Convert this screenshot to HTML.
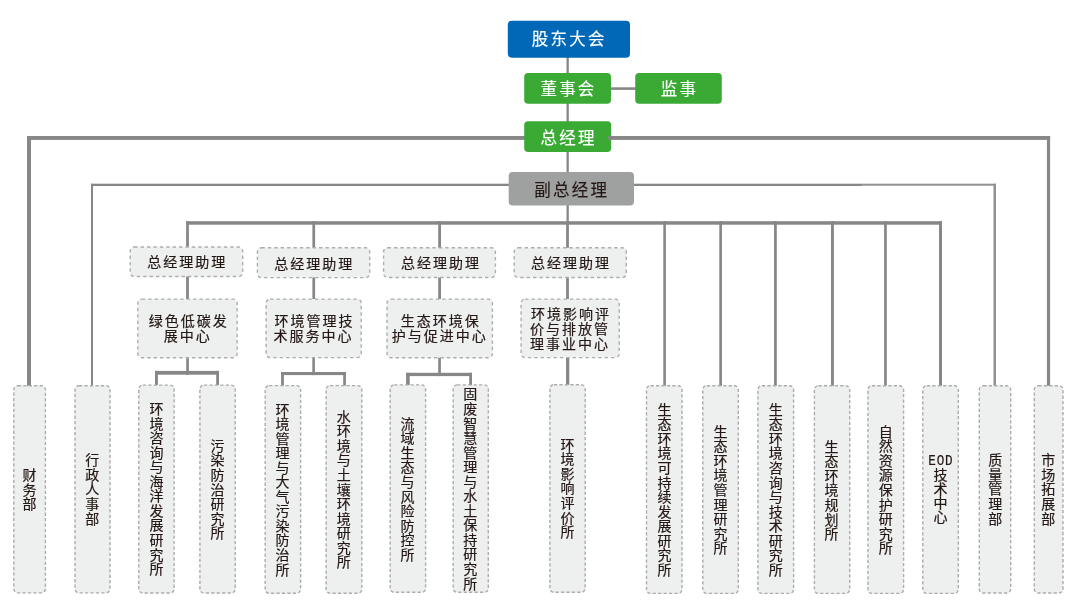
<!DOCTYPE html>
<html lang="zh-CN">
<head>
<meta charset="utf-8">
<title>组织架构</title>
<style>
html,body{margin:0;padding:0;background:#fff;}
body{width:1079px;height:609px;position:relative;overflow:hidden;
 font-family:"Liberation Sans","Noto Sans CJK SC",sans-serif;color:#231815;}
svg{position:absolute;left:0;top:0;}
.ln{fill:#878787;}
.ln2{fill:#919191;}
.blue{fill:#0068b7;}
.green{fill:#3aaa35;}
.gray{fill:#9fa0a0;}
.d{fill:#eeefef;stroke:#acacac;stroke-width:1.4;stroke-dasharray:3.3 2.15;}
.d2{stroke-dasharray:3.4 3.0;stroke:#adadad;}
.b{position:absolute;box-sizing:border-box;will-change:transform;display:flex;align-items:center;justify-content:center;text-align:center;}
.top{color:#fff;font-size:16.5px;letter-spacing:2.2px;text-indent:2.2px;-webkit-text-stroke:0.15px currentColor;}
.dk{color:#231815;}
.h{-webkit-text-stroke:0.2px currentColor;font-size:14px;letter-spacing:2px;text-indent:2px;line-height:15px;padding-top:2.2px;}
.v{-webkit-text-stroke:0.2px currentColor;flex-direction:column;padding-right:2.4px;}
.v span.t{writing-mode:vertical-rl;font-size:14px;letter-spacing:0.55px;line-height:16px;}
.v span.e{-webkit-text-stroke:0.2px currentColor;font-family:"Liberation Mono",monospace;font-size:15.2px;letter-spacing:0.9px;text-indent:0.9px;line-height:12px;margin:0 -6.5px 1.5px -5.5px;transform:scaleX(0.83);}
.v span.t2{letter-spacing:0.05px;}
</style>
</head>
<body>
<svg width="1079" height="609" viewBox="0 0 1079 609">
<rect class="ln" x="566.5" y="50" width="2.3" height="172"/>
<rect class="ln" x="605" y="87.3" width="35" height="2.6"/>
<rect class="ln" x="27.0" y="136.0" width="1023.1" height="3.9"/>
<rect class="ln" x="27.0" y="136.0" width="4.0" height="252.0"/>
<rect class="ln" x="1046.9" y="136.0" width="3.2" height="252.0"/>
<rect class="ln" x="91" y="183.7" width="771.3" height="2.3"/>
<rect class="ln2" x="862.3" y="183.7" width="133.7" height="2.0"/>
<rect class="ln" x="91" y="183.8" width="2" height="204.2"/>
<rect class="ln2" x="993.5" y="183.8" width="2.5" height="204.2"/>
<rect class="ln" x="186.1" y="221.2" width="755.9" height="3.5"/>
<rect class="ln" x="186.1" y="221.2" width="2.8" height="78.8"/>
<rect class="ln" x="312.4" y="221.2" width="2.7" height="78.8"/>
<rect class="ln" x="438.2" y="221.2" width="2.8" height="78.8"/>
<rect class="ln" x="566.1" y="221.2" width="2.8" height="78.8"/>
<rect class="ln" x="663.3" y="221.2" width="2.6" height="166.8"/>
<rect class="ln" x="719.3" y="221.2" width="2.7" height="166.8"/>
<rect class="ln" x="774.0" y="221.2" width="2.8" height="166.8"/>
<rect class="ln" x="831.0" y="221.2" width="2.9" height="166.8"/>
<rect class="ln" x="884.1" y="221.2" width="2.7" height="166.8"/>
<rect class="ln" x="939.0" y="221.2" width="3.0" height="166.8"/>
<rect class="ln" x="186.2" y="355" width="2.7" height="19.7"/>
<rect class="ln" x="155.0" y="370.9" width="64.0" height="3.8"/>
<rect class="ln" x="155.0" y="370.9" width="2.9" height="17.1"/>
<rect class="ln" x="216.2" y="370.9" width="2.8" height="17.1"/>
<rect class="ln" x="312.3" y="355" width="2.6" height="20.1"/>
<rect class="ln" x="281.1" y="372.0" width="64.8" height="3.1"/>
<rect class="ln" x="281.1" y="372.0" width="2.8" height="16.0"/>
<rect class="ln" x="343.2" y="372.0" width="2.7" height="16.0"/>
<rect class="ln" x="438.2" y="355" width="2.7" height="21.1"/>
<rect class="ln" x="406.1" y="372.8" width="65.9" height="3.3"/>
<rect class="ln" x="406.1" y="372.8" width="3.6" height="15.2"/>
<rect class="ln" x="469.2" y="372.8" width="2.8" height="15.2"/>
<rect class="ln" x="566.0" y="355" width="3.3" height="33"/>
<rect class="blue" x="507.8" y="20.85" width="122.2" height="36.85" rx="4"/>
<rect class="green" x="524.2" y="73" width="86.8" height="30.8" rx="4"/>
<rect class="green" x="635.2" y="73" width="86.6" height="30.8" rx="4"/>
<rect class="green" x="524.2" y="121.2" width="87.0" height="30.9" rx="4"/>
<rect class="ln" x="608.2" y="136" width="4" height="3.9"/>
<rect class="gray" x="508.7" y="172" width="125.3" height="33.6" rx="4"/>
<rect class="d d2" x="130.2" y="247.0" width="112.5" height="29.5" rx="4"/>
<rect class="d d2" x="257.4" y="247.7" width="112.3" height="29.9" rx="4"/>
<rect class="d d2" x="383.6" y="247.7" width="111.8" height="29.8" rx="4"/>
<rect class="d d2" x="514.2" y="247.7" width="112.1" height="29.8" rx="4"/>
<rect class="d d2" x="137.8" y="299.1" width="99.35" height="58.7" rx="4"/>
<rect class="d d2" x="266.1" y="299.1" width="95.1" height="58.5" rx="4"/>
<rect class="d d2" x="387.0" y="299.1" width="105.4" height="58.6" rx="4"/>
<rect class="d d2" x="521.1" y="299.1" width="98.1" height="58.5" rx="4"/>
<rect class="d" x="13.8" y="385.7" width="31.6" height="207.15" rx="4"/>
<rect class="d" x="75.0" y="385.7" width="35.0" height="207.15" rx="4"/>
<rect class="d" x="138.8" y="385.1" width="35.3" height="207.9" rx="4"/>
<rect class="d" x="199.9" y="385.1" width="35.3" height="207.9" rx="4"/>
<rect class="d" x="265.2" y="385.6" width="35.4" height="207.6" rx="4"/>
<rect class="d" x="326.1" y="385.6" width="35.7" height="207.6" rx="4"/>
<rect class="d" x="390.2" y="384.9" width="35.4" height="207.4" rx="4"/>
<rect class="d" x="453.2" y="384.9" width="35.1" height="207.4" rx="4"/>
<rect class="d" x="549.9" y="384.7" width="35.3" height="207.6" rx="4"/>
<rect class="d" x="646.5" y="385.7" width="35.5" height="207.7" rx="4"/>
<rect class="d" x="702.8" y="385.7" width="35.5" height="207.7" rx="4"/>
<rect class="d" x="757.9" y="385.7" width="35.7" height="207.7" rx="4"/>
<rect class="d" x="814.4" y="385.7" width="35.3" height="207.7" rx="4"/>
<rect class="d" x="867.9" y="385.7" width="35.7" height="207.7" rx="4"/>
<rect class="d" x="922.8" y="385.7" width="35.5" height="207.7" rx="4"/>
<rect class="d" x="979.3" y="385.7" width="31.4" height="207.3" rx="4"/>
<rect class="d" x="1034.3" y="385.7" width="28.7" height="207.3" rx="4"/>
</svg>
<div class="b top" style="left:507.3px;top:20.05px;width:122.2px;height:36.85px">股东大会</div>
<div class="b top" style="left:524.2px;top:73px;width:86.8px;height:30.8px">董事会</div>
<div class="b top" style="left:635.2px;top:73px;width:86.6px;height:30.8px">监事</div>
<div class="b top" style="left:523.7px;top:122.0px;width:87.0px;height:30.9px">总经理</div>
<div class="b top dk" style="left:507.7px;top:172.2px;width:125.3px;height:33.6px">副总经理</div>
<div class="b h" style="left:130.2px;top:247.0px;width:112.5px;height:29.5px">总经理助理</div>
<div class="b h" style="left:257.4px;top:247.7px;width:112.3px;height:29.9px">总经理助理</div>
<div class="b h" style="left:383.6px;top:247.7px;width:111.8px;height:29.8px">总经理助理</div>
<div class="b h" style="left:514.2px;top:247.7px;width:112.1px;height:29.8px">总经理助理</div>
<div class="b h" style="left:137.8px;top:299.1px;width:99.35px;height:58.7px">绿色低碳发<br>展中心</div>
<div class="b h" style="left:266.1px;top:299.1px;width:95.1px;height:58.5px">环境管理技<br>术服务中心</div>
<div class="b h" style="left:387.0px;top:299.1px;width:105.4px;height:58.6px">生态环境保<br>护与促进中心</div>
<div class="b h" style="left:521.1px;top:299.1px;width:98.1px;height:58.5px">环境影响评<br>价与排放管<br>理事业中心</div>
<div class="b v" style="left:13.8px;top:385.5px;width:31.6px;height:207.35px"><span class="t">财务部</span></div>
<div class="b v" style="left:75.0px;top:385.5px;width:35.0px;height:207.35px"><span class="t">行政人事部</span></div>
<div class="b v" style="left:138.8px;top:385.5px;width:35.3px;height:207.35px;transform:translate(0px,-0.3px)"><span class="t">环境咨询与海洋发展研究所</span></div>
<div class="b v" style="left:199.9px;top:385.5px;width:35.3px;height:207.35px;transform:translate(0px,-0.4px)"><span class="t">污染防治研究所</span></div>
<div class="b v" style="left:265.2px;top:385.5px;width:35.4px;height:207.35px;transform:translate(0px,0.2px)"><span class="t">环境管理与大气污染防治所</span></div>
<div class="b v" style="left:326.1px;top:385.5px;width:35.7px;height:207.35px;transform:translate(0px,-0.5px)"><span class="t">水环境与土壤环境研究所</span></div>
<div class="b v" style="left:390.2px;top:385.5px;width:35.4px;height:207.35px;transform:translate(0px,-0.5px)"><span class="t">流域生态与风险防控所</span></div>
<div class="b v" style="left:453.2px;top:385.5px;width:35.1px;height:207.35px;transform:translate(0px,-0.9px)"><span class="t">固废智慧管理与水土保持研究所</span></div>
<div class="b v" style="left:549.9px;top:385.5px;width:35.3px;height:207.35px;transform:translate(0px,-1.5px)"><span class="t">环境影响评价所</span></div>
<div class="b v" style="left:646.5px;top:385.5px;width:35.5px;height:207.35px;transform:translate(0px,0.5px)"><span class="t">生态环境可持续发展研究所</span></div>
<div class="b v" style="left:702.8px;top:385.5px;width:35.5px;height:207.35px;transform:translate(0px,0.5px)"><span class="t">生态环境管理研究所</span></div>
<div class="b v" style="left:757.9px;top:385.5px;width:35.7px;height:207.35px;transform:translate(0px,0.5px)"><span class="t">生态环境咨询与技术研究所</span></div>
<div class="b v" style="left:814.4px;top:385.5px;width:35.3px;height:207.35px;transform:translate(0px,0.5px)"><span class="t">生态环境规划所</span></div>
<div class="b v" style="left:867.9px;top:385.5px;width:35.7px;height:207.35px;transform:translate(0px,0.5px)"><span class="t">自然资源保护研究所</span></div>
<div class="b v" style="left:922.8px;top:385.5px;width:35.5px;height:207.35px"><span class="e">EOD</span><span class="t t2">技术中心</span></div>
<div class="b v" style="left:979.3px;top:385.5px;width:31.4px;height:207.35px;transform:translate(0.8px,0px)"><span class="t">质量管理部</span></div>
<div class="b v" style="left:1034.3px;top:385.5px;width:28.7px;height:207.35px"><span class="t">市场拓展部</span></div>
</body>
</html>
